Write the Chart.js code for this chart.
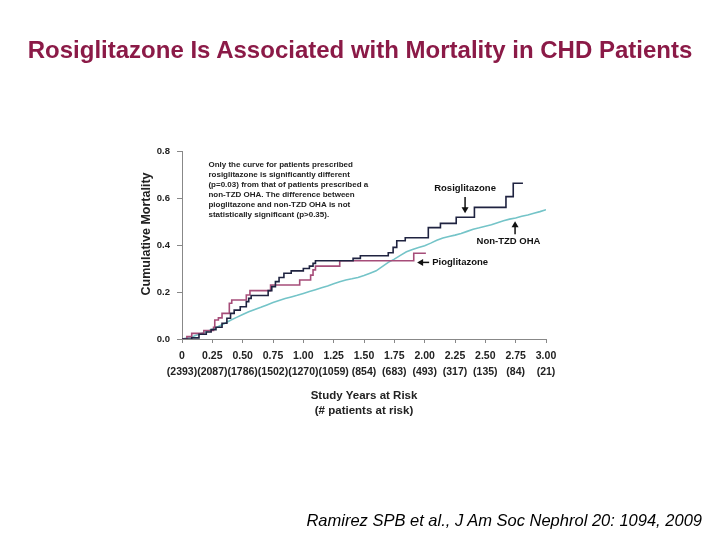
<!DOCTYPE html>
<html><head><meta charset="utf-8">
<script src="https://cdn.jsdelivr.net/npm/chart.js@4.4.0/dist/chart.umd.min.js"></script>
<style>
html,body{margin:0;padding:0;background:#fff;}
#wrap{position:relative;width:720px;height:540px;overflow:hidden;background:#fff;}
#c{position:absolute;left:0;top:0;}
#title{position:absolute;left:0;top:35px;width:720px;text-align:center;font:bold 24px "Liberation Sans",Arial,sans-serif;line-height:30px;color:#8b1a47;white-space:nowrap;}
#cite{position:absolute;right:18px;top:510px;font:italic 16.5px "Liberation Sans",Arial,sans-serif;line-height:20px;color:#000;white-space:nowrap;}
</style></head><body>
<div id="wrap"><canvas id="c" width="720" height="540"></canvas>
<div id="title">Rosiglitazone Is Associated with Mortality in CHD Patients</div>
<div id="cite">Ramirez SPB et al., J Am Soc Nephrol 20: 1094, 2009</div></div>
<script>
// Tick labels
const xTickLabels = ['0','0.25','0.50','0.75','1.00','1.25','1.50','1.75','2.00','2.25','2.50','2.75','3.00'];
const atRiskLabels = ['(2393)','(2087)','(1786)','(1502)','(1270)','(1059)','(854)','(683)','(493)','(317)','(135)','(84)','(21)'];

// Rosiglitazone (Kaplan-Meier steps)
const rosiT = [0,0.08,0.14,0.20,0.24,0.28,0.33,0.37,0.40,0.43,0.48,0.53,0.55,0.57,0.71,0.74,0.77,0.80,0.84,0.90,1.00,1.05,1.08,1.10,1.41,1.47,1.70,1.74,1.77,1.84,2.03,2.13,2.26,2.41,2.67,2.73,2.81];
const rosiV = [0,0.005,0.02,0.03,0.04,0.05,0.067,0.088,0.109,0.123,0.137,0.159,0.173,0.185,0.206,0.223,0.244,0.262,0.28,0.29,0.30,0.31,0.322,0.333,0.343,0.354,0.367,0.39,0.418,0.431,0.474,0.492,0.518,0.56,0.606,0.663,0.663];

// Pioglitazone
const pioT = [0,0.04,0.08,0.18,0.26,0.27,0.30,0.33,0.39,0.41,0.53,0.56,0.73,0.97,1.06,1.08,1.10,1.30,1.91,2.01];
const pioV = [0,0.01,0.024,0.036,0.05,0.081,0.09,0.109,0.152,0.166,0.187,0.206,0.23,0.251,0.272,0.294,0.31,0.333,0.365,0.365];

// Non-TZD OHA
const nonT = [0,0.05,0.10,0.15,0.20,0.25,0.30,0.35,0.40,0.45,0.50,0.55,0.60,0.65,0.70,0.75,0.80,0.85,0.90,0.95,1.00,1.05,1.10,1.15,1.20,1.25,1.30,1.35,1.40,1.45,1.50,1.55,1.60,1.65,1.70,1.75,1.80,1.85,1.90,1.95,2.00,2.05,2.10,2.15,2.20,2.25,2.30,2.35,2.40,2.45,2.50,2.55,2.60,2.65,2.70,2.75,2.80,2.85,2.90,2.95,3.00];
const nonV = [0,0.005,0.013,0.022,0.031,0.041,0.053,0.066,0.08,0.092,0.104,0.116,0.126,0.135,0.145,0.155,0.164,0.172,0.179,0.186,0.194,0.202,0.21,0.218,0.226,0.235,0.244,0.251,0.256,0.262,0.27,0.28,0.29,0.308,0.326,0.34,0.356,0.371,0.381,0.389,0.397,0.408,0.42,0.43,0.436,0.442,0.449,0.458,0.467,0.473,0.48,0.486,0.495,0.503,0.51,0.515,0.522,0.528,0.535,0.542,0.55];

const FONT = '"Liberation Sans", Arial, sans-serif';
const pts = (T, V) => T.map((t, i) => ({x: t, y: V[i]}));

const noteLines = [
  'Only the curve for patients prescribed',
  'rosiglitazone is significantly different',
  '(p=0.03) from that of patients prescribed a',
  'non-TZD OHA. The difference between',
  'pioglitazone and non-TZD OHA is not',
  'statistically significant (p>0.35).'
];

function arrowHead(ctx, x, y, dx, dy) {
  const L = 6, W = 3.5;
  ctx.beginPath();
  ctx.moveTo(x, y);
  ctx.lineTo(x - dx * L - dy * W, y - dy * L + dx * W);
  ctx.lineTo(x - dx * L + dy * W, y - dy * L - dx * W);
  ctx.closePath();
  ctx.fill();
}

const annotPlugin = {
  id: 'annot',
  afterDraw(chart) {
    const {ctx, chartArea, scales: {x, y}} = chart;
    ctx.save();
    ctx.fillStyle = '#222';
    ctx.strokeStyle = '#111';
    // Y axis title
    ctx.save();
    ctx.translate(chartArea.left - 35, y.getPixelForValue(0.447));
    ctx.rotate(-Math.PI / 2);
    ctx.font = 'bold 12.5px ' + FONT;
    ctx.textAlign = 'center';
    ctx.textBaseline = 'middle';
    ctx.fillText('Cumulative Mortality', 0, 0);
    ctx.restore();

    // note paragraph
    ctx.font = 'bold 8px ' + FONT;
    ctx.textAlign = 'left';
    ctx.textBaseline = 'middle';
    const nx = x.getPixelForValue(0.218);
    const ny = y.getPixelForValue(0.74);
    noteLines.forEach((s, i) => ctx.fillText(s, nx, ny + i * 10));

    // series labels
    ctx.fillStyle = '#111';
    ctx.font = 'bold 9.5px ' + FONT;
    ctx.textAlign = 'center';
    ctx.fillText('Rosiglitazone', x.getPixelForValue(2.333), y.getPixelForValue(0.642));
    ctx.fillText('Non-TZD OHA', x.getPixelForValue(2.691), y.getPixelForValue(0.416));
    ctx.textAlign = 'left';
    ctx.fillText('Pioglitazone', x.getPixelForValue(2.062), y.getPixelForValue(0.326));

    ctx.lineWidth = 1.5;
    // Rosi arrow (down)
    let ax = x.getPixelForValue(2.333), a1 = y.getPixelForValue(0.604), a2 = y.getPixelForValue(0.535);
    ctx.beginPath(); ctx.moveTo(ax, a1); ctx.lineTo(ax, a2 - 4); ctx.stroke();
    arrowHead(ctx, ax, a2, 0, 1);
    // Non-TZD arrow (up)
    ax = x.getPixelForValue(2.745); a1 = y.getPixelForValue(0.446); a2 = y.getPixelForValue(0.501);
    ctx.beginPath(); ctx.moveTo(ax, a1); ctx.lineTo(ax, a2 + 4); ctx.stroke();
    arrowHead(ctx, ax, a2, 0, -1);
    // Pio arrow (left)
    const px1 = x.getPixelForValue(2.037), px2 = x.getPixelForValue(1.938), py = y.getPixelForValue(0.326);
    ctx.beginPath(); ctx.moveTo(px1, py); ctx.lineTo(px2 + 4, py); ctx.stroke();
    arrowHead(ctx, px2, py, -1, 0);
    ctx.restore();
  }
};

new Chart(document.getElementById('c'), {
  type: 'line',
  data: {
    datasets: [
      {label: 'Rosiglitazone', data: pts(rosiT, rosiV), borderColor: '#1f2340', borderWidth: 1.6, stepped: true, pointRadius: 0, fill: false},
      {label: 'Pioglitazone', data: pts(pioT, pioV), borderColor: '#a64d79', borderWidth: 1.6, stepped: true, pointRadius: 0, fill: false},
      {label: 'Non-TZD OHA', data: pts(nonT, nonV), borderColor: '#74c4c8', borderWidth: 1.6, stepped: false, tension: 0, pointRadius: 0, fill: false}
    ]
  },
  options: {
    responsive: false, animation: false, devicePixelRatio: 1,
    layout: {padding: {left: 0, top: 151, right: 174, bottom: 122}},
    plugins: {legend: {display: false}, tooltip: {enabled: false}},
    scales: {
      x: {
        type: 'linear', min: 0, max: 3,
        afterFit: s => { s.height = 79; },
        grid: {display: true, drawOnChartArea: false, drawTicks: true, tickLength: 4, color: '#888'},
        border: {display: true, color: '#888', width: 1},
        ticks: {stepSize: 0.25, autoSkip: false, maxRotation: 0, padding: 5, color: '#222',
          font: {family: FONT, size: 10.5, weight: 'bold', lineHeight: 1.55},
          callback: (v, i) => [xTickLabels[i], atRiskLabels[i]]},
        title: {display: true, text: ['Study Years at Risk', '(# patients at risk)'], color: '#222',
          font: {family: FONT, size: 11.5, weight: 'bold', lineHeight: 1.3}, padding: {top: 0, bottom: 0}}
      },
      y: {
        min: 0, max: 0.8,
        afterFit: s => { s.width = 182; },
        grid: {display: true, drawOnChartArea: false, drawTicks: true, tickLength: 5, color: '#888'},
        border: {display: true, color: '#888', width: 1},
        ticks: {stepSize: 0.2, padding: 7, color: '#222',
          font: {family: FONT, size: 9.5, weight: 'bold'},
          callback: v => v.toFixed(1)}
      }
    }
  },
  plugins: [annotPlugin]
});
</script>
</body></html>
